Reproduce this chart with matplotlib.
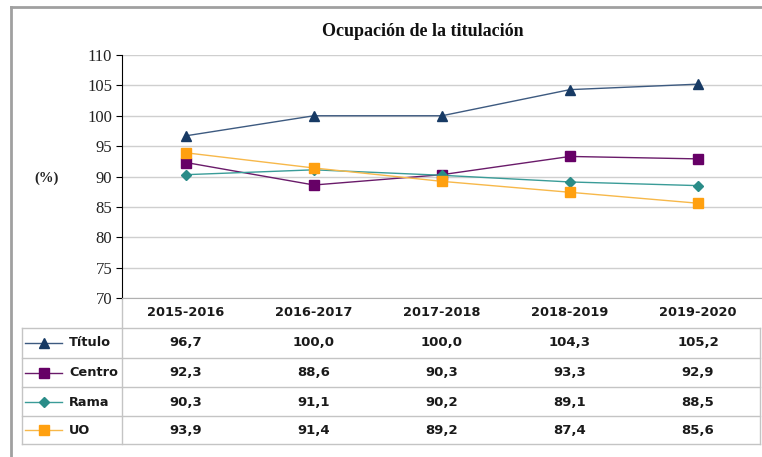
import matplotlib.pyplot as plt
import matplotlib.transforms as mtransforms
from matplotlib.lines import Line2D

W, H = 762, 457

cursos = ["2015-2016", "2016-2017", "2017-2018", "2018-2019", "2019-2020"]
titulo = [96.7, 100.0, 100.0, 104.3, 105.2]
centro = [92.3, 88.6, 90.3, 93.3, 92.9]
rama = [90.3, 91.1, 90.2, 89.1, 88.5]
uo = [93.9, 91.4, 89.2, 87.4, 85.6]

series = [
  ("Título", titulo, "#3d5a80", "#173a64", "^", 7),
  ("Centro", centro, "#6a1b6a", "#660066", "s", 6.5),
  ("Rama", rama, "#3a9c98", "#2a8c88", "D", 5),
  ("UO", uo, "#f7b84a", "#ffa010", "s", 6.5),
]

def px(x0, y0, x1, y1):
  return [x0 / W, 1 - y1 / H, (x1 - x0) / W, (y1 - y0) / H]

fig = plt.figure(figsize=(W / 100, H / 100), dpi=100)

# overlay in pixel units for border, title, table
ov = fig.add_axes([0, 0, 1, 1], facecolor="none")
ov.set_xlim(0, W)
ov.set_ylim(H, 0)
ov.axis("off")

ax = fig.add_axes(px(122, 55, 762, 298))
x = list(range(len(cursos)))
for name, vals, lc, mc, mk, ms in series:
  ax.plot(x, vals, color=lc, lw=1.0, marker=mk, markersize=ms,
          markerfacecolor=mc, markeredgecolor=mc, zorder=3)
ax.set_xlim(-0.5, len(cursos) - 0.5)
ax.set_ylim(70, 110)
ax.set_yticks(range(70, 111, 5))
ax.set_xticks([])
ax.grid(axis="y", color="#cfcfcf", lw=1)
ax.set_axisbelow(True)
for s in ["top", "right"]:
  ax.spines[s].set_visible(False)
ax.spines["bottom"].set_color("#b0b0b0")
ax.spines["left"].set_color("black")
ax.tick_params(axis="y", length=4, width=0.8, direction="out", pad=3,
               labelsize=12)
for lab in ax.get_yticklabels():
  lab.set_fontfamily("Liberation Serif")
  lab.set_color("#222222")

# outer frame
ov.add_line(Line2D([11, 11], [7, H], color="#a0a0a0", lw=2))
ov.add_line(Line2D([11, W], [7, 7], color="#a0a0a0", lw=2))

ov.text(423, 32, "Ocupación de la titulación", ha="center", va="center",
        fontsize=13, fontweight="bold", family="Liberation Serif", color="#111111")
ov.text(47, 178, "(%)", ha="center", va="center", fontsize=10.5,
        fontweight="bold", family="Liberation Serif", color="#222222")

# data table
tr = mtransforms.blended_transform_factory(ax.transData, ov.transData)
row_lines = [328, 358, 387, 416, 444]
row_mid = [343, 373, 402, 430]
for y in row_lines:
  ov.add_line(Line2D([22, 760], [y, y], color="#c4c4c4", lw=1))
ov.add_line(Line2D([22, 22], [328, 444], color="#c4c4c4", lw=1))
ov.add_line(Line2D([122, 122], [298, 444], color="#c4c4c4", lw=1))
ov.add_line(Line2D([760, 760], [328, 444], color="#c4c4c4", lw=1))

for i, c in enumerate(cursos):
  ov.text(i, 313, c, transform=tr, ha="center", va="center",
          fontsize=9.3, fontweight="bold", color="#1a1a1a")

for (name, vals, lc, mc, mk, ms), ym in zip(series, row_mid):
  ov.add_line(Line2D([25, 62], [ym, ym], color=lc, lw=1.0))
  ov.plot([43.5], [ym], marker=mk, markersize=ms, color=mc, ls="none")
  ov.text(69, ym, name, ha="left", va="center", fontsize=9.3,
          fontweight="bold", color="#1a1a1a")
  for i, v in enumerate(vals):
    ov.text(i, ym, f"{v:.1f}".replace(".", ","), transform=tr,
            ha="center", va="center", fontsize=9.5, fontweight="bold",
            color="#1a1a1a")

fig.savefig("out.png", dpi=100)
